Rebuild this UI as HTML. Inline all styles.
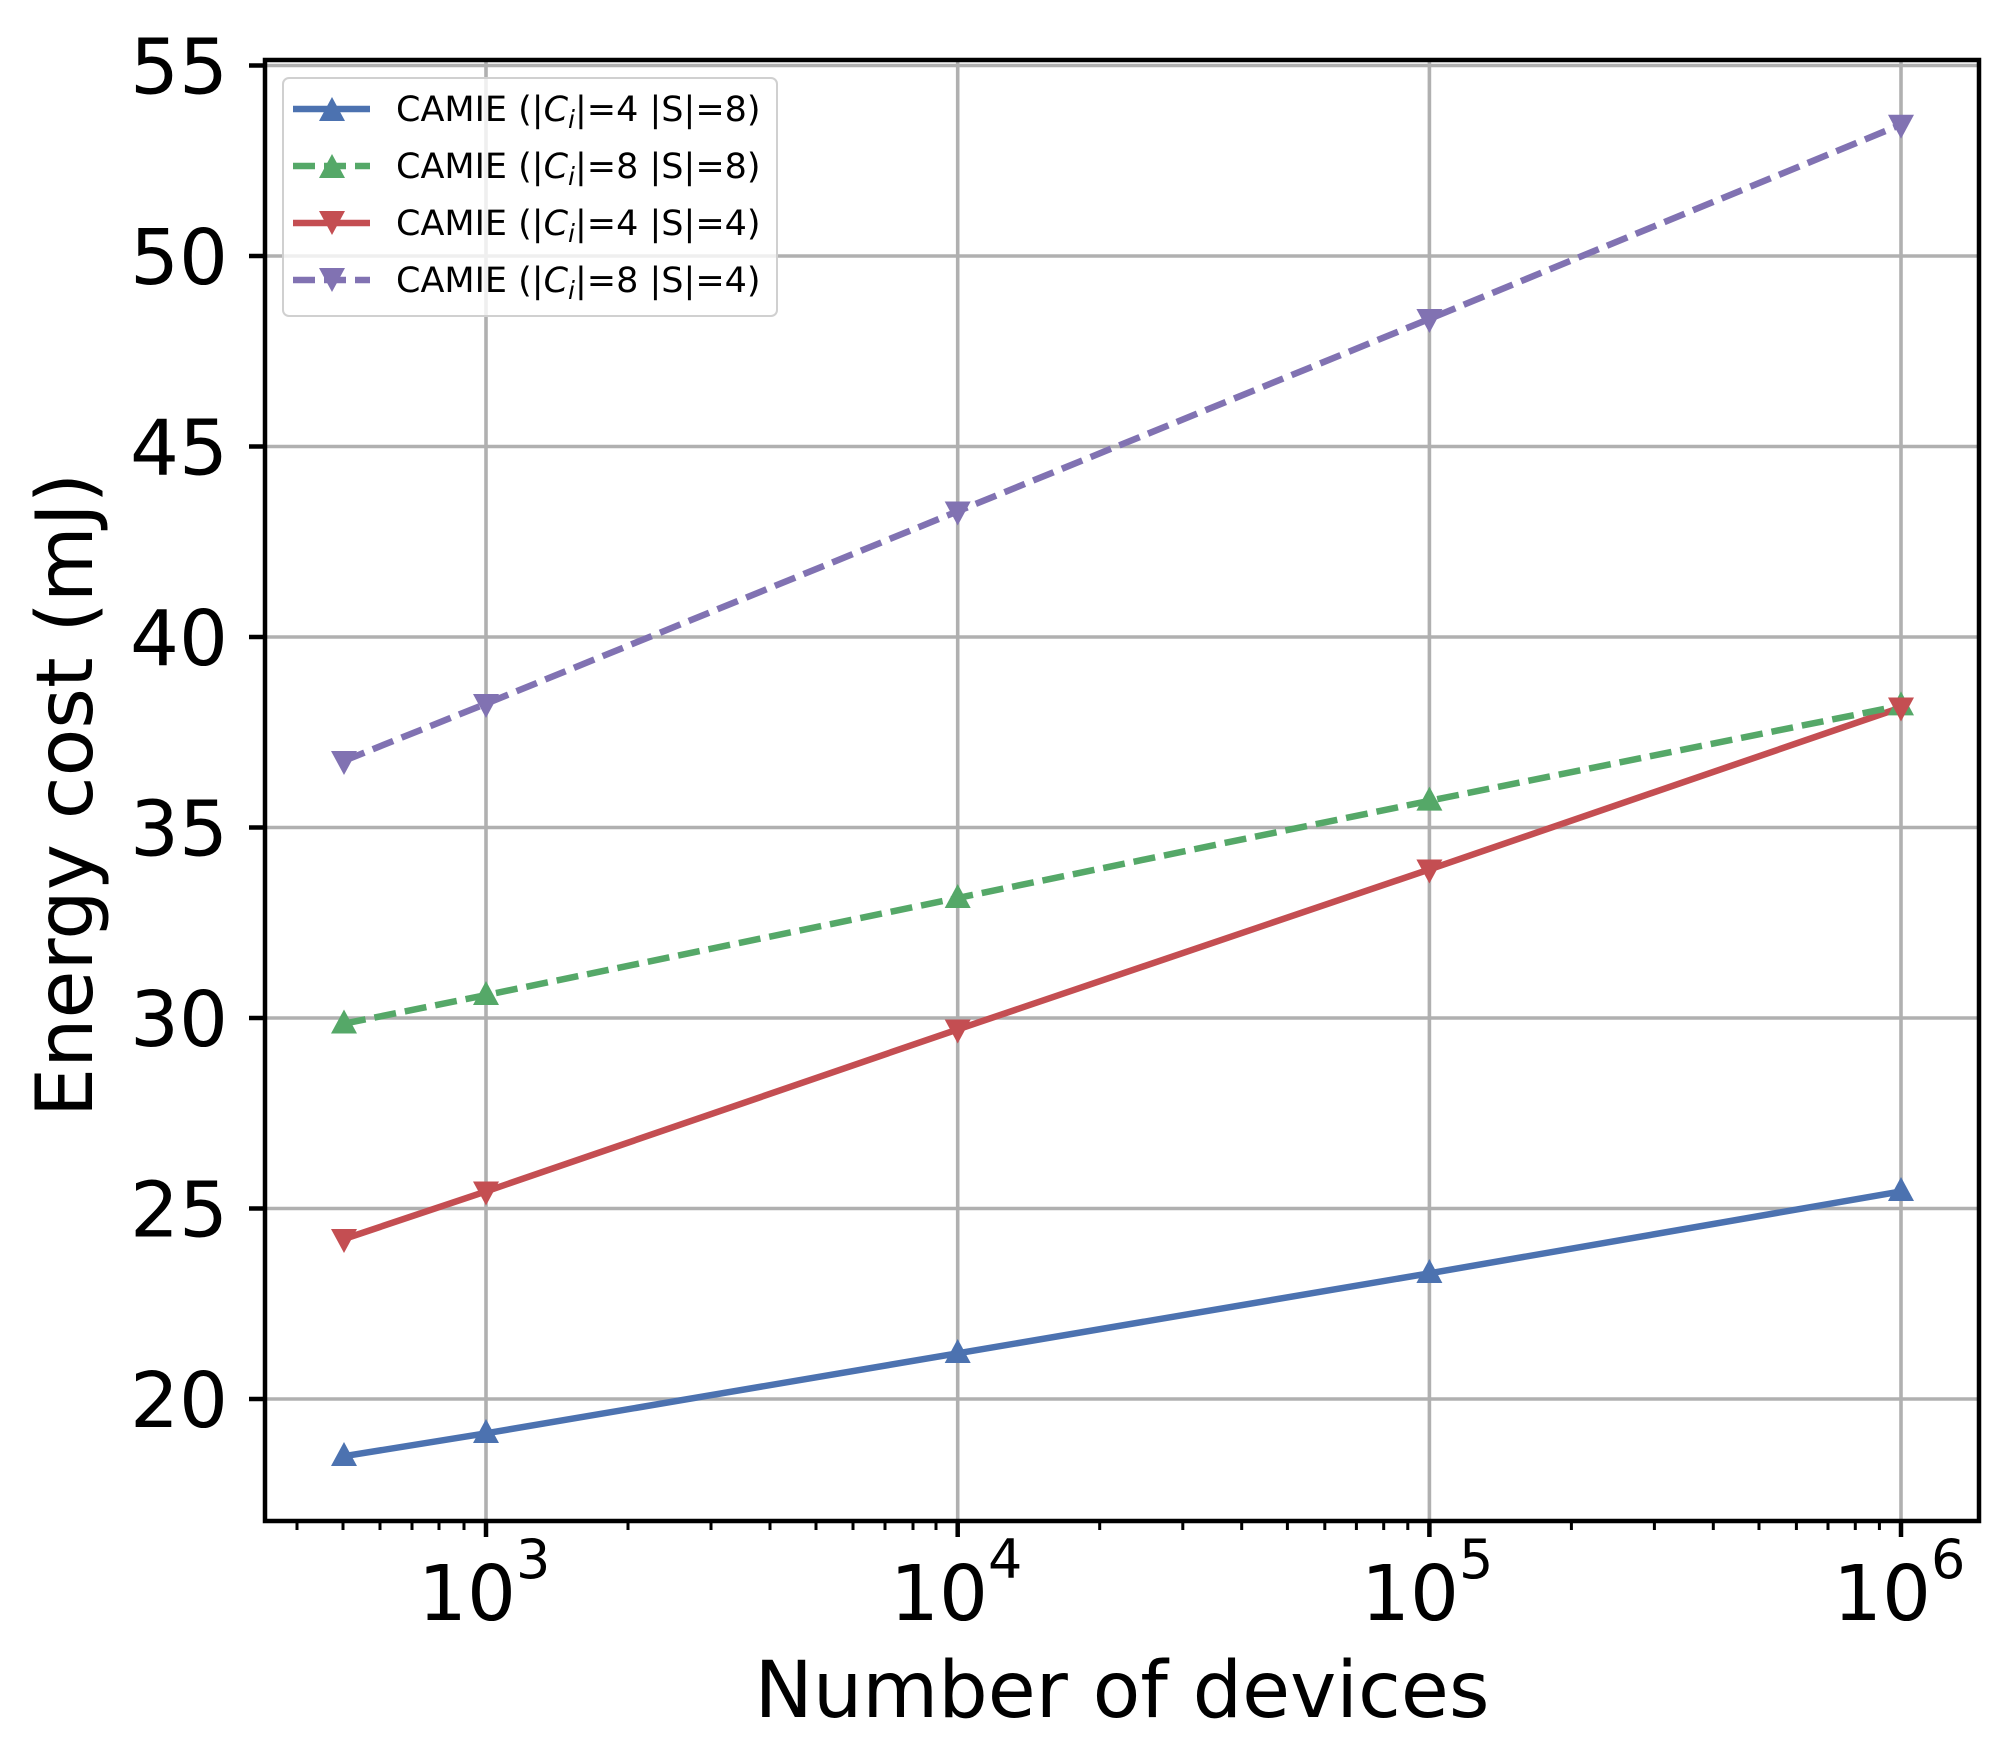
<!DOCTYPE html>
<html><head><meta charset="utf-8"><style>
html,body{margin:0;padding:0;background:#fff;}
svg{display:block;}
text{font-family:"DejaVu Sans","Liberation Sans",sans-serif;fill:#000;}
</style></head><body>
<svg width="2010" height="1750" viewBox="0 0 2010 1750" xmlns="http://www.w3.org/2000/svg">
<rect width="2010" height="1750" fill="#fff"/>
<g stroke="#b0b0b0" stroke-width="3.6">
<line x1="265" x2="1979" y1="1399" y2="1399"/>
<line x1="265" x2="1979" y1="1208.5" y2="1208.5"/>
<line x1="265" x2="1979" y1="1018" y2="1018"/>
<line x1="265" x2="1979" y1="827.5" y2="827.5"/>
<line x1="265" x2="1979" y1="637" y2="637"/>
<line x1="265" x2="1979" y1="446.5" y2="446.5"/>
<line x1="265" x2="1979" y1="256" y2="256"/>
<line x1="265" x2="1979" y1="65.5" y2="65.5"/>
<line x1="486" x2="486" y1="60" y2="1521"/>
<line x1="957.7" x2="957.7" y1="60" y2="1521"/>
<line x1="1429.4" x2="1429.4" y1="60" y2="1521"/>
<line x1="1901" x2="1901" y1="60" y2="1521"/>
</g>
<g fill="none" stroke-width="6.5" stroke-linejoin="round">
<polyline stroke="#4c72b0" points="344,1456.2 486,1433.3 957.7,1353.3 1429.4,1273.3 1901,1191.4"/>
<polyline stroke="#c44e52" points="344,1239 486,1191.4 957.7,1029.4 1429.4,869.4 1901,707.5"/>
<polyline stroke="#55a868" stroke-dasharray="22,9" points="344,1023.7 486,995.1 957.7,898 1429.4,800.8 1901,705.6"/>
<polyline stroke="#8172b2" stroke-dasharray="22,9" points="344,760.8 486,703.7 957.7,511.3 1429.4,318.9 1901,124.6"/>
</g>
<g fill="#4c72b0">
<polygon points="344,1442 331,1466 357,1466"/>
<polygon points="486,1419 473,1443 499,1443"/>
<polygon points="957.7,1339 944.7,1363 970.7,1363"/>
<polygon points="1429.4,1259 1416.4,1283 1442.4,1283"/>
<polygon points="1901,1177 1888,1201 1914,1201"/>
</g>
<g fill="#55a868">
<polygon points="344,1009.5 331,1033.5 357,1033.5"/>
<polygon points="486,981 473,1005 499,1005"/>
<polygon points="957.7,884 944.7,908 970.7,908"/>
<polygon points="1429.4,786.6 1416.4,810.6 1442.4,810.6"/>
<polygon points="1901,691.4 1888,715.4 1914,715.4"/>
</g>
<g fill="#c44e52">
<polygon points="344,1253 331,1229 357,1229"/>
<polygon points="486,1205.5 473,1181.5 499,1181.5"/>
<polygon points="957.7,1043.5 944.7,1019.5 970.7,1019.5"/>
<polygon points="1429.4,883.5 1416.4,859.5 1442.4,859.5"/>
<polygon points="1901,721.5 1888,697.5 1914,697.5"/>
</g>
<g fill="#8172b2">
<polygon points="344,775 331,751 357,751"/>
<polygon points="486,718 473,694 499,694"/>
<polygon points="957.7,525.5 944.7,501.5 970.7,501.5"/>
<polygon points="1429.4,333 1416.4,309 1442.4,309"/>
<polygon points="1901,138.8 1888,114.8 1914,114.8"/>
</g>
<rect x="265" y="60" width="1714" height="1461" fill="none" stroke="#000" stroke-width="4.5"/>
<g stroke="#000" stroke-width="4.5">
<line x1="249" x2="265" y1="1399" y2="1399"/>
<line x1="249" x2="265" y1="1208.5" y2="1208.5"/>
<line x1="249" x2="265" y1="1018" y2="1018"/>
<line x1="249" x2="265" y1="827.5" y2="827.5"/>
<line x1="249" x2="265" y1="637" y2="637"/>
<line x1="249" x2="265" y1="446.5" y2="446.5"/>
<line x1="249" x2="265" y1="256" y2="256"/>
<line x1="249" x2="265" y1="65.5" y2="65.5"/>
<line x1="486" x2="486" y1="1521" y2="1537"/>
<line x1="957.7" x2="957.7" y1="1521" y2="1537"/>
<line x1="1429.4" x2="1429.4" y1="1521" y2="1537"/>
<line x1="1901" x2="1901" y1="1521" y2="1537"/>
</g>
<g stroke="#000" stroke-width="3">
<line x1="297" x2="297" y1="1521" y2="1530"/>
<line x1="343" x2="343" y1="1521" y2="1530"/>
<line x1="380" x2="380" y1="1521" y2="1530"/>
<line x1="412" x2="412" y1="1521" y2="1530"/>
<line x1="439" x2="439" y1="1521" y2="1530"/>
<line x1="464" x2="464" y1="1521" y2="1530"/>
<line x1="628" x2="628" y1="1521" y2="1530"/>
<line x1="711" x2="711" y1="1521" y2="1530"/>
<line x1="770" x2="770" y1="1521" y2="1530"/>
<line x1="816" x2="816" y1="1521" y2="1530"/>
<line x1="853" x2="853" y1="1521" y2="1530"/>
<line x1="885" x2="885" y1="1521" y2="1530"/>
<line x1="913" x2="913" y1="1521" y2="1530"/>
<line x1="936" x2="936" y1="1521" y2="1530"/>
<line x1="1099.7" x2="1099.7" y1="1521" y2="1530"/>
<line x1="1182.8" x2="1182.8" y1="1521" y2="1530"/>
<line x1="1241.7" x2="1241.7" y1="1521" y2="1530"/>
<line x1="1287.4" x2="1287.4" y1="1521" y2="1530"/>
<line x1="1324.8" x2="1324.8" y1="1521" y2="1530"/>
<line x1="1356.4" x2="1356.4" y1="1521" y2="1530"/>
<line x1="1383.7" x2="1383.7" y1="1521" y2="1530"/>
<line x1="1407.8" x2="1407.8" y1="1521" y2="1530"/>
<line x1="1571.4" x2="1571.4" y1="1521" y2="1530"/>
<line x1="1654.4" x2="1654.4" y1="1521" y2="1530"/>
<line x1="1713.3" x2="1713.3" y1="1521" y2="1530"/>
<line x1="1759" x2="1759" y1="1521" y2="1530"/>
<line x1="1796.4" x2="1796.4" y1="1521" y2="1530"/>
<line x1="1828" x2="1828" y1="1521" y2="1530"/>
<line x1="1855.3" x2="1855.3" y1="1521" y2="1530"/>
<line x1="1879.4" x2="1879.4" y1="1521" y2="1530"/>
</g>
<g font-size="77" text-anchor="end">
<text x="228" y="1427">20</text>
<text x="228" y="1236.5">25</text>
<text x="228" y="1046">30</text>
<text x="228" y="855.5">35</text>
<text x="228" y="665">40</text>
<text x="228" y="474.5">45</text>
<text x="228" y="284">50</text>
<text x="228" y="93.5">55</text>
</g>
<g font-size="77">
<text x="418" y="1620">10<tspan font-size="54" dy="-42">3</tspan></text>
<text x="890" y="1620">10<tspan font-size="54" dy="-42">4</tspan></text>
<text x="1361" y="1620">10<tspan font-size="54" dy="-42">5</tspan></text>
<text x="1833" y="1620">10<tspan font-size="54" dy="-42">6</tspan></text>
</g>
<text x="1122" y="1717" font-size="78" text-anchor="middle">Number of devices</text>
<text transform="translate(92,795) rotate(-90)" font-size="78" text-anchor="middle">Energy cost (mJ)</text>
<rect x="283" y="78" width="494" height="238" rx="6" fill="#fff" fill-opacity="0.8" stroke="#d0d0d0" stroke-width="2"/>
<g stroke-width="6.5">
<line x1="293" x2="370" y1="109" y2="109" stroke="#4c72b0"/>
<line x1="293" x2="370" y1="166" y2="166" stroke="#55a868" stroke-dasharray="22,9"/>
<line x1="293" x2="370" y1="223" y2="223" stroke="#c44e52"/>
<line x1="293" x2="370" y1="280" y2="280" stroke="#8172b2" stroke-dasharray="22,9"/>
</g>
<polygon points="332,97 319,121 345,121" fill="#4c72b0"/>
<polygon points="332,154 319,178 345,178" fill="#55a868"/>
<polygon points="332,235 319,211 345,211" fill="#c44e52"/>
<polygon points="332,292 319,268 345,268" fill="#8172b2"/>
<g font-size="35">
<text x="396" y="121">CAMIE (|<tspan font-style="italic">C<tspan font-size="25" dy="7">i</tspan></tspan><tspan dy="-7">|=4 |S|=8)</tspan></text>
<text x="396" y="178">CAMIE (|<tspan font-style="italic">C<tspan font-size="25" dy="7">i</tspan></tspan><tspan dy="-7">|=8 |S|=8)</tspan></text>
<text x="396" y="235">CAMIE (|<tspan font-style="italic">C<tspan font-size="25" dy="7">i</tspan></tspan><tspan dy="-7">|=4 |S|=4)</tspan></text>
<text x="396" y="292">CAMIE (|<tspan font-style="italic">C<tspan font-size="25" dy="7">i</tspan></tspan><tspan dy="-7">|=8 |S|=4)</tspan></text>
</g>
</svg>
</body></html>
